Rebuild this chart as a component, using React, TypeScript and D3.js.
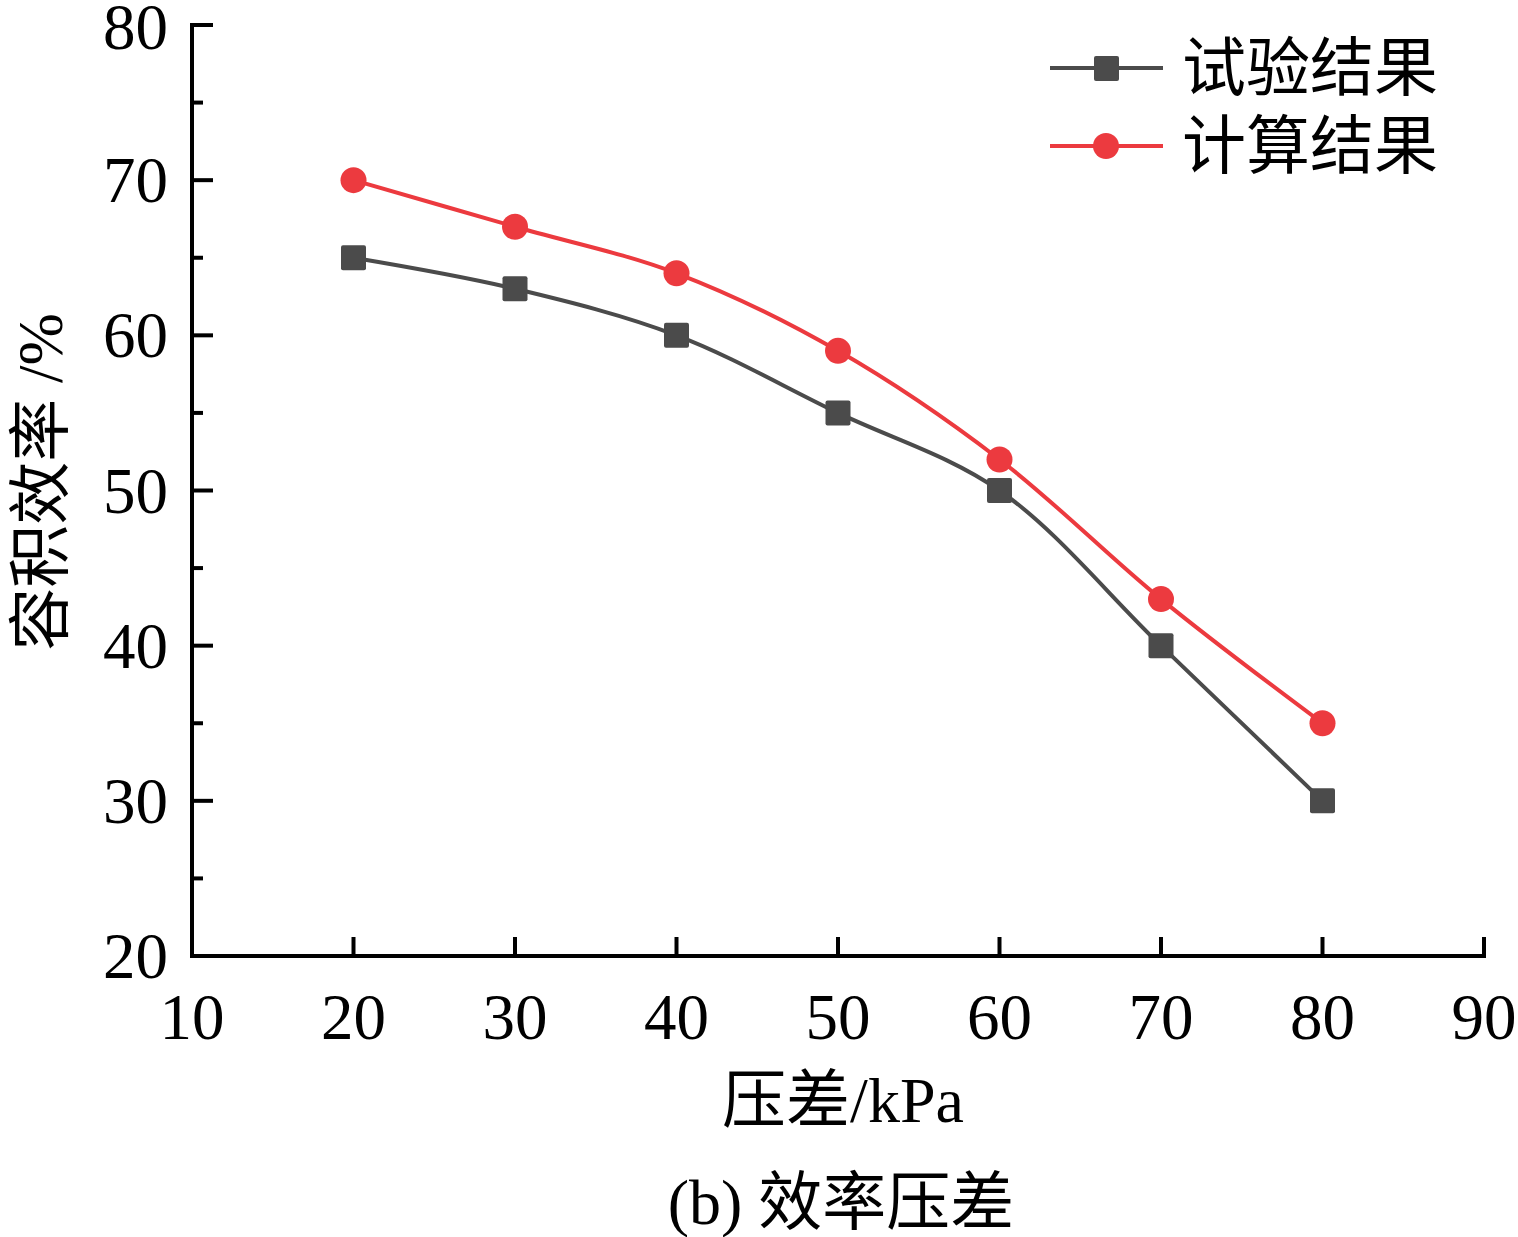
// @ts-nocheck
import * as d3 from "d3"
import * as React from "react"

const pressure = [20, 30, 40, 50, 60, 70, 80]
const testResult = [65, 63, 60, 55, 50, 40, 30]
const calcResult = [70, 67, 64, 59, 52, 43, 35]
const xTicks = [10, 20, 30, 40, 50, 60, 70, 80, 90]
const yTicks = [20, 30, 40, 50, 60, 70, 80]
const yMinorTicks = [25, 35, 45, 55, 65, 75]
const seriesNames = ["试验结果", "计算结果"]

const W = 1518
const H = 1237
const m = { left: 192, right: 1484, top: 25, bottom: 956 }
const GRAY = "#4b4b4b"
const RED = "#ec3a3f"
const FONT = "'Liberation Serif', 'Times New Roman', 'Noto Sans CJK SC', serif"

export default function App() {
  const x = d3.scaleLinear().domain([10, 90]).range([m.left, m.right])
  const y = d3.scaleLinear().domain([20, 80]).range([m.bottom, m.top])
  const line = d3.line()
    .x(d => x(d[0]))
    .y(d => y(d[1]))
    .curve(d3.curveCatmullRom.alpha(0.5))

  const testPts = pressure.map((p, i) => [p, testResult[i]])
  const calcPts = pressure.map((p, i) => [p, calcResult[i]])

  return (
    <svg width={W} height={H} style={{ position: "absolute", left: 0, top: 0, background: "#fff" }}
      fontFamily={FONT}>
      {/* axes */}
      <line x1={m.left} x2={m.left} y1={m.top - 2} y2={m.bottom + 2} stroke="#000" strokeWidth={4} />
      <line x1={m.left - 2} x2={m.right + 2} y1={m.bottom} y2={m.bottom} stroke="#000" strokeWidth={4} />
      {yTicks.map(t => (
        <g key={"y" + t}>
          <line x1={m.left} x2={m.left + 21} y1={y(t)} y2={y(t)} stroke="#000" strokeWidth={4} />
          <text x={168} y={y(t) + (t === 80 ? 2 : 0)} dy="0.34em" textAnchor="end" fontSize={65}>{t}</text>
        </g>
      ))}
      {yMinorTicks.map(t => (
        <line key={"ym" + t} x1={m.left} x2={m.left + 11} y1={y(t)} y2={y(t)} stroke="#000" strokeWidth={4} />
      ))}
      {xTicks.map(t => (
        <g key={"x" + t}>
          <line x1={x(t)} x2={x(t)} y1={m.bottom} y2={m.bottom - 19} stroke="#000" strokeWidth={4} />
          <text x={x(t)} y={1039} textAnchor="middle" fontSize={65}>{t}</text>
        </g>
      ))}
      {/* titles */}
      <text transform={`translate(62,482) rotate(-90)`} textAnchor="middle" fontSize={63}>容积效率 /%</text>
      <text x={843} y={1122} textAnchor="middle" fontSize={64}>压差/kPa</text>
      <text x={841} y={1224} textAnchor="middle" fontSize={64}>(b) 效率压差</text>

      {/* series */}
      <path d={line(testPts)} fill="none" stroke={GRAY} strokeWidth={4} />
      <path d={line(calcPts)} fill="none" stroke={RED} strokeWidth={4} />
      {testPts.map((d, i) => (
        <rect key={"s" + i} x={x(d[0]) - 12.5} y={y(d[1]) - 12.5} width={25} height={25} rx={2} fill={GRAY} />
      ))}
      {calcPts.map((d, i) => (
        <circle key={"c" + i} cx={x(d[0])} cy={y(d[1])} r={13} fill={RED} />
      ))}

      {/* legend */}
      <line x1={1050} x2={1163} y1={68} y2={68} stroke={GRAY} strokeWidth={4} />
      <rect x={1094} y={56} width={25} height={25} rx={2} fill={GRAY} />
      <text x={1182} y={90} fontSize={64}>{seriesNames[0]}</text>
      <line x1={1050} x2={1163} y1={146} y2={146} stroke={RED} strokeWidth={4} />
      <circle cx={1106} cy={146} r={13} fill={RED} />
      <text x={1182} y={168} fontSize={64}>{seriesNames[1]}</text>
    </svg>
  )
}
